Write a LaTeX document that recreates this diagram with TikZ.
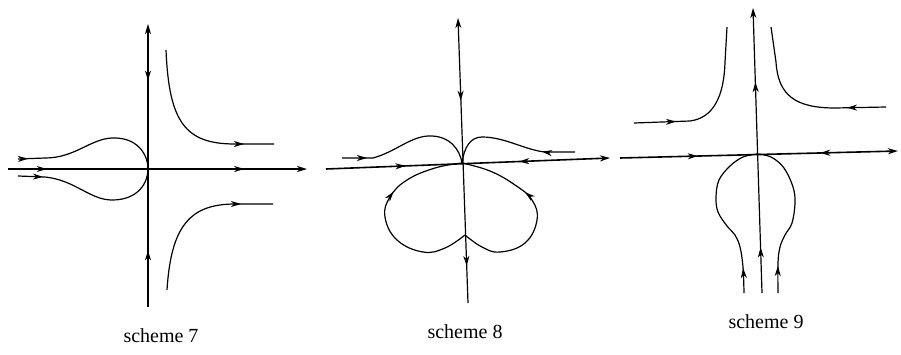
\documentclass[tikz,border=0pt]{standalone}
\usepackage{fontspec}
\setmainfont{Liberation Serif}
\usetikzlibrary{arrows.meta,positioning,decorations.markings}

\begin{document}
\begin{tikzpicture}[x=1pt,y=-1pt,line width=1.2pt,>={Stealth[length=10pt,width=6pt,inset=3pt]},
  axis/.style={line width=1.6pt},
  fwd/.style={postaction={decorate,decoration={markings,mark=at position #1 with {\arrow{>}}}}},
  bwd/.style={postaction={decorate,decoration={markings,mark=at position #1 with {\arrowreversed{>}}}}},
  caption/.style={anchor=base,font=\fontsize{20}{24}\selectfont}]
\useasboundingbox (0,0) rectangle (901,354);
% scheme 7
\draw[axis,->,fwd=0.13,fwd=0.79] (8,169) -- (307,169);
\draw[->,fwd=0.2,bwd=0.8] (148,307) -- (148,24);
\draw[fwd=-30pt] (166,50) .. controls (169,122) and (185,144) .. (235,144) -- (274,144);
\draw[fwd=-32pt] (167,290) .. controls (171,226) and (190,204) .. (235,204) -- (273,204);
\draw[fwd=10pt] (18,159) -- (45,158) .. controls (75,158) and (90,139) .. (112,138)
  .. controls (138,137) and (148,155) .. (148,169);
\draw[fwd=25pt] (18,176) -- (45,177) .. controls (75,180) and (90,200) .. (112,200)
  .. controls (138,200) and (148,183) .. (148,169);
\node[caption] (cap7) at (161,342) {scheme 7};
% scheme 8
\draw[axis,->,fwd=0.28,bwd=0.68] (326,169) -- (610,158);
\draw[<-,fwd=0.29,fwd=0.87] (458,18) -- (468,303);
\draw[fwd=25pt] (342,158) -- (373,158) .. controls (395,152) and (410,137) .. (428,136)
  .. controls (450,135) and (460,150) .. (462,163);
\draw[fwd=33pt] (575,152) -- (545,152) .. controls (525,150) and (505,137) .. (482,137)
  .. controls (470,137) and (464,148) .. (462,163);
\draw[fwd=0.63] plot[smooth,tension=0.7] coordinates {(465,235) (445,248) (423,252) (397,240)
  (385,217) (390,197) (407,180) (435,168) (462,163)};
\draw[fwd=0.64] plot[smooth,tension=0.7] coordinates {(465,235) (482,247) (500,252) (525,243)
  (537,220) (532,200) (515,185) (490,171) (462,163)};
\node[caption] (cap8) at (465,338) {scheme 8};
% scheme 9
\draw[axis,->,fwd=0.28,bwd=0.72] (620,158) -- (898,151);
\draw[->,fwd=0.16,fwd=0.74] (762,293) -- (753,8);
\draw[fwd=42pt] (634,123) -- (690,121) .. controls (713,118) and (724,97) .. (725,62) -- (727,27);
\draw[fwd=39pt] (886,107) -- (835,108) .. controls (795,108) and (778,95) .. (776,62) -- (771,27);
\draw[fwd=25pt] plot[smooth,tension=0.6] coordinates {(744,293) (743,267) (740,247) (735,235)
  (727,226) (718,212) (716,197) (719,180) (730,166) (743,157) (757,154)};
\draw[fwd=27pt] plot[smooth,tension=0.6] coordinates {(778,293) (778,263) (780,247) (785,235)
  (792,223) (795,203) (793,187) (784,168) (771,157) (757,154)};
\node[caption] (cap9) at (766,328) {scheme 9};
\end{tikzpicture}
\end{document}
